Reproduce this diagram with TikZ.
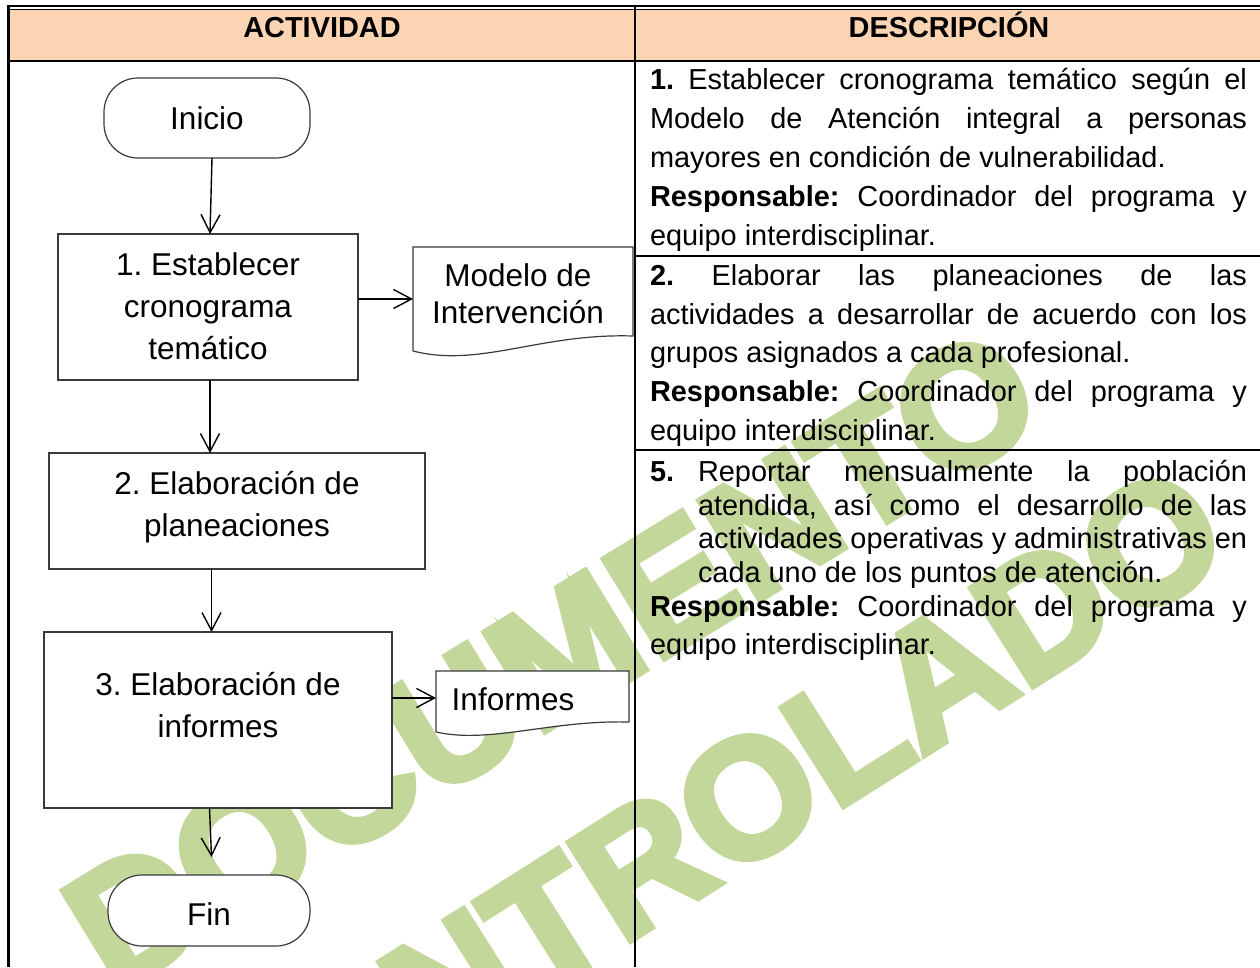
\documentclass[tikz,border=0pt]{standalone}
\usepackage{fontspec}
\setmainfont{Liberation Sans}
\newfontface\wmface[FakeBold=4]{Liberation Sans Bold}
\usetikzlibrary{arrows.meta,calc}
\definecolor{hdr}{HTML}{FBD4B4}
\definecolor{wm}{HTML}{C4D79B}
\definecolor{edge}{HTML}{3A3A3A}
\newcommand{\dfont}{\fontsize{28.9}{39}\selectfont}
\newcommand{\ffont}{\fontsize{31.5}{42}\selectfont}
\newcommand{\mfont}{\fontsize{31.5}{37}\selectfont}
\newcommand{\wmfont}{\fontsize{168}{168}\selectfont\wmface}
\newcommand{\jline}[2]{\makebox[#1pt][s]{#2}}
\frenchspacing
\begin{document}
\begin{tikzpicture}[x=1pt,y=-1pt,
  every node/.style={inner sep=0pt, outer sep=0pt},
  tbl/.style={line width=2.4pt, black},
  shp/.style={draw=edge, line width=1.2pt, fill=white},
  proc/.style={shp, rectangle},
  term/.style={shp, rectangle, rounded corners=34pt},
  docbox/.style={rectangle, anchor=north west},
  flow/.style={font=\ffont, align=center, text=black},
  desc/.style={font=\dfont, anchor=base west},
  hdrtext/.style={font=\dfont\bfseries, anchor=base},
  arr/.style={-{Straight Barb[length=18pt,width=19pt,line width=1.4pt]}, line width=1.4pt, black},
  wmtext/.style={text=wm, font=\wmfont}]
\useasboundingbox (0,0) rectangle (1260,967);
\fill[white] (0,0) rectangle (1260,967);
% watermark
\begin{scope}
\clip (0,0) rectangle (1260,967);
\node[wmtext, rotate=31.5] (wm1) at (552,659) {DOCUMENTO};
\node[wmtext, rotate=32.3] (wm2) at (697,830) {CONTROLADO};
\end{scope}
% table
\fill[hdr] (8.5,9) rectangle (1260,61);
\draw[tbl] (7,6) -- (1260,6);
\draw[line width=0.8pt] (8.5,9.5) -- (1260,9.5);
\draw[tbl] (8.5,6) -- (8.5,967);
\draw[tbl] (8.5,61) -- (1260,61);
\draw[tbl] (635,6) -- (635,967);
\draw[tbl] (635,256) -- (1260,256);
\draw[tbl] (635,450) -- (1260,450);
\node[hdrtext] (h1) at (322,37.5) {ACTIVIDAD};
\node[hdrtext] (h2) at (949,37.5) {DESCRIPCIÓN};
% flowchart shapes
\node[term, minimum width=206pt, minimum height=80pt, font=\ffont] (ini) at (207,118) {Inicio};
\node[proc, minimum width=300pt, minimum height=146pt] (b1) at (208,307) {};
\node[flow] (b1t) at (208,306) {1. Establecer\\cronograma\\temático};
\node[proc, minimum width=376pt, minimum height=116pt] (b2) at (237,511) {};
\node[flow] (b2t) at (237,507) {2. Elaboración de\\planeaciones};
\node[proc, minimum width=348pt, minimum height=176pt] (b3) at (218,720) {};
\node[flow] (b3t) at (218,705) {3. Elaboración de\\informes};
\node[term, minimum width=202pt, minimum height=71pt] (fin) at (209,910.5) {};
\node[flow] (fint) at (209,914) {Fin};
% documents
\node[docbox, minimum width=220pt, minimum height=104pt] (mod) at (413,247) {};
\draw[shp] (mod.south west) -- (mod.north west) -- (mod.north east) -- ($(mod.north east)+(0,89)$)
  .. controls (540,333) and (480,368) .. (mod.south west);
\node[flow, font=\mfont] (modt) at (518,294) {Modelo de\\Intervención};
\node[docbox, minimum width=193pt, minimum height=61pt] (inf) at (436,671) {};
\draw[shp] (inf.south west) -- (inf.north west) -- (inf.north east) -- ($(inf.north east)+(0,51)$)
  .. controls (550,720) and (490,744) .. (inf.south west);
\node[flow] (inft) at (513,699) {Informes};
% connectors
\coordinate (a0) at ($(ini.south)+(5,0)$);
\coordinate (a0e) at ($(b1.north)+(2,0)$);
\draw[arr] (a0) -- (a0e);
\coordinate (a1) at ($(b1.south)+(2,0)$);
\draw[arr] (a1) -- (a1 |- b2.north);
\coordinate (a2) at ($(b2.south)+(-25.5,0)$);
\draw[arr] (a2) -- (a2 |- b3.north);
\coordinate (a3) at ($(b3.south)+(-8.5,0)$);
\coordinate (finin) at ($(fin.north)+(2.5,-18)$);
\draw[arr] (a3) -- (finin);
\draw[arr] (b1.east |- mod.west) -- (mod.west);
\coordinate (infa) at ($(inf.west)+(0,-3.5)$);
\draw[arr] (b3.east |- infa) -- (infa);
% description row 1
\node[desc] (d11) at (650,89) {\jline{597}{\textbf{1.} Establecer cronograma temático según el}};
\node[desc] (d12) at (650,128) {\jline{597}{Modelo de Atención integral a personas}};
\node[desc] (d13) at (650,167) {mayores en condición de vulnerabilidad.};
\node[desc] (d14) at (650,206) {\jline{597}{\textbf{Responsable:} Coordinador del programa y}};
\node[desc] (d15) at (650,245) {equipo interdisciplinar.};
% row 2
\node[desc] (d21) at (650,285) {\jline{597}{\textbf{2.} Elaborar las planeaciones de las}};
\node[desc] (d22) at (650,324) {\jline{597}{actividades a desarrollar de acuerdo con los}};
\node[desc] (d23) at (650,362) {grupos asignados a cada profesional.};
\node[desc] (d24) at (650,401) {\jline{597}{\textbf{Responsable:} Coordinador del programa y}};
\node[desc] (d25) at (650,440) {equipo interdisciplinar.};
% row 3
\node[desc] (d30) at (650,481) {\textbf{5.}};
\node[desc] (d31) at (698,481) {\jline{549}{Reportar mensualmente la población}};
\node[desc] (d32) at (698,515) {\jline{549}{atendida, así como el desarrollo de las}};
\node[desc] (d33) at (698,548) {\jline{549}{actividades operativas y administrativas en}};
\node[desc] (d34) at (698,582) {cada uno de los puntos de atención.};
\node[desc] (d35) at (650,616) {\jline{597}{\textbf{Responsable:} Coordinador del programa y}};
\node[desc] (d36) at (650,654) {equipo interdisciplinar.};
\end{tikzpicture}
\end{document}
